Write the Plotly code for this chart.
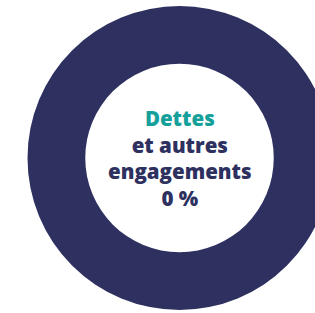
import plotly.graph_objects as go

labels = ["Dettes et autres engagements", "Autres"]
values = [0, 100]
colors = ["#16a09c", "#2e3160"]
title_main = "Dettes"
title_rest = ["et autres", "engagements"]

W, H = 360, 313

fig = go.Figure(go.Pie(
    labels=labels,
    values=values,
    hole=0.62,
    sort=False,
    marker=dict(colors=colors, line=dict(width=0)),
    textinfo="none",
    hoverinfo="label+percent",
    domain=dict(x=[27.5 / W, 331.5 / W], y=[3 / H, 307 / H]),
    showlegend=False,
))

pct = f"{values[0]} %"
text = (f"<span style='color:{colors[0]}'>{title_main}</span><br>"
        + "<br>".join(title_rest) + f"<br>{pct}")

fig.add_annotation(
    x=(27.5 + 331.5) / 2 / W, y=(3 + 307) / 2 / H, xref="paper", yref="paper",
    text=text, showarrow=False, align="center",
    font=dict(family="Open Sans", size=20.5, color=colors[1], weight=800),
)

fig.update_layout(
    width=W, height=H,
    margin=dict(l=0, r=0, t=0, b=0),
    paper_bgcolor="white", plot_bgcolor="white",
)

fig.write_html("out.html", config={"displayModeBar": False},
               post_script="document.body.style.margin='0';document.body.style.overflow='hidden';")
